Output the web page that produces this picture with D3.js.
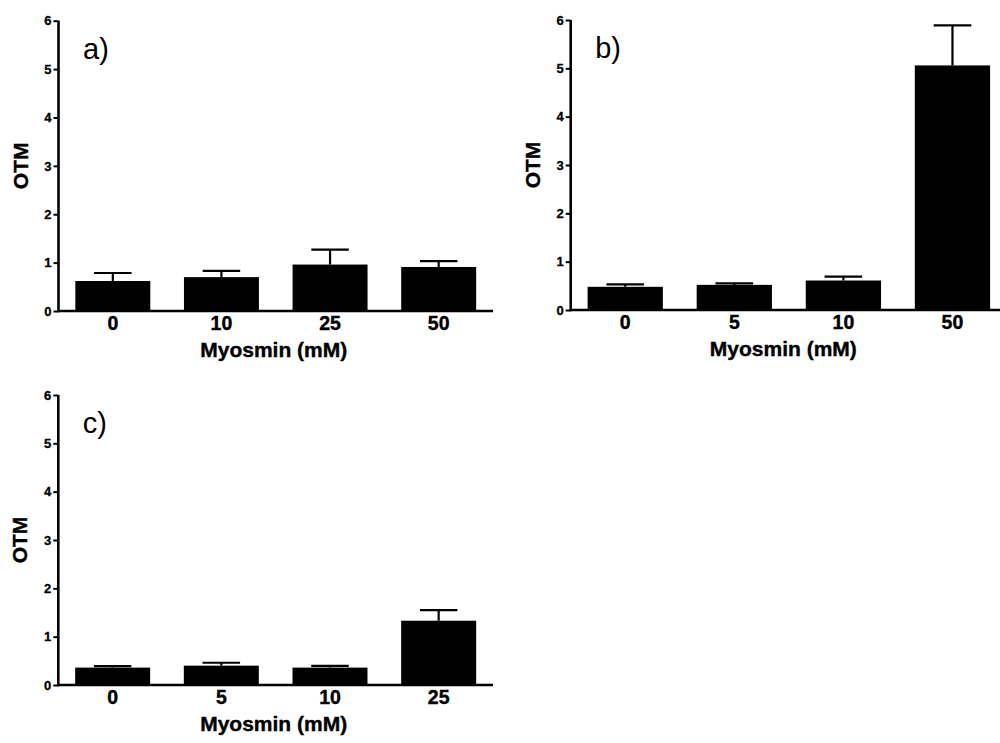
<!DOCTYPE html>
<html>
<head>
<meta charset="utf-8">
<script src="https://cdn.jsdelivr.net/npm/d3@7/dist/d3.min.js"></script>
<style>
  html, body { margin: 0; padding: 0; background: #fff; }
  svg { display: block; }
  .tick text { font-family: "Liberation Sans", Arial, sans-serif; font-weight: bold; }
</style>
</head>
<body>
<svg id="chart" width="1000" height="743"></svg>
<script>
// Myosmin concentrations (mM) per panel
const catsA = ["0", "10", "25", "50"];
const catsB = ["0", "5", "10", "50"];
const catsC = ["0", "5", "10", "25"];

// Mean OTM per concentration
const meanA = [0.62, 0.70, 0.96, 0.91];
const meanB = [0.48, 0.52, 0.61, 5.06];
const meanC = [0.36, 0.40, 0.36, 1.33];

// Upper error (SEM) per concentration
const errA = [0.165, 0.13, 0.31, 0.12];
const errB = [0.05, 0.03, 0.08, 0.83];
const errC = [0.03, 0.06, 0.035, 0.22];

const yTicks = [0, 1, 2, 3, 4, 5, 6];
const panelLabels = ["a)", "b)", "c)"];
const xTitle = "Myosmin (mM)";
const yTitle = "OTM";

const svg = d3.select("#chart");

const panels = [
  { cats: catsA, mean: meanA, err: errA, label: panelLabels[0], x0: 58.5, x1: 493, yTop: 20.7, yBot: 311 },
  { cats: catsB, mean: meanB, err: errB, label: panelLabels[1], x0: 570.7, x1: 1007, yTop: 20, yBot: 310 },
  { cats: catsC, mean: meanC, err: errC, label: panelLabels[2], x0: 58.3, x1: 493, yTop: 395, yBot: 685 }
];

const font = '"Liberation Sans", Arial, sans-serif';

panels.forEach(p => {
  const g = svg.append("g");

  const x = d3.scaleBand()
    .domain(p.cats)
    .range([p.x0, p.x1])
    .paddingInner(0.31)
    .paddingOuter(0.155);

  const y = d3.scaleLinear().domain([0, 6]).range([p.yBot, p.yTop]);

  const rows = p.cats.map((c, i) => ({ c, m: p.mean[i], e: p.err[i] }));

  // error bars (upper only), drawn behind the bars
  const eb = g.append("g").attr("stroke", "#000").attr("stroke-width", 2.2);
  eb.selectAll("line.v").data(rows).join("line")
    .attr("class", "v")
    .attr("x1", d => x(d.c) + x.bandwidth() / 2)
    .attr("x2", d => x(d.c) + x.bandwidth() / 2)
    .attr("y1", d => y(d.m))
    .attr("y2", d => y(d.m + d.e));
  eb.selectAll("line.cap").data(rows).join("line")
    .attr("class", "cap")
    .attr("x1", d => x(d.c) + x.bandwidth() / 4)
    .attr("x2", d => x(d.c) + x.bandwidth() * 3 / 4)
    .attr("y1", d => y(d.m + d.e))
    .attr("y2", d => y(d.m + d.e));

  // bars
  g.append("g").selectAll("rect").data(rows).join("rect")
    .attr("x", d => x(d.c))
    .attr("width", x.bandwidth())
    .attr("y", d => y(d.m))
    .attr("height", d => y(0) - y(d.m))
    .attr("fill", "#000");

  // y axis
  const ya = g.append("g")
    .attr("transform", `translate(${p.x0},0)`)
    .call(d3.axisLeft(y).tickValues(yTicks).tickFormat(d3.format("d")).tickSize(5).tickPadding(2).tickSizeOuter(0));
  ya.select(".domain").attr("stroke-width", 2.6).attr("d", `M0,${p.yBot + 1.3}V${p.yTop}`);
  ya.selectAll(".tick line").attr("stroke-width", 2);
  ya.selectAll(".tick text").attr("font-size", 13).attr("fill", "#000")
    .attr("stroke", "#000").attr("stroke-width", 0.3);

  // x axis (no ticks)
  const xa = g.append("g")
    .attr("transform", `translate(0,${p.yBot})`)
    .call(d3.axisBottom(x).tickSize(0).tickPadding(5).tickSizeOuter(0));
  xa.select(".domain").attr("stroke-width", 2.6).attr("d", `M${p.x0},0H${p.x1}`);
  xa.selectAll(".tick text").attr("font-size", 19.5).attr("fill", "#000")
    .attr("stroke", "#000").attr("stroke-width", 0.4);

  // axis titles
  g.append("text")
    .attr("x", (p.x0 + Math.min(p.x1, 1000)) / 2 - 2)
    .attr("y", p.yBot + 46)
    .attr("text-anchor", "middle")
    .attr("font-family", font)
    .attr("font-weight", "bold")
    .attr("font-size", 21)
    .attr("stroke", "#000").attr("stroke-width", 0.4)
    .text(xTitle);

  g.append("text")
    .attr("transform", `translate(${p.x0 - 31},${(p.yTop + p.yBot) / 2}) rotate(-90)`)
    .attr("text-anchor", "middle")
    .attr("font-family", font)
    .attr("font-weight", "bold")
    .attr("font-size", 21)
    .attr("stroke", "#000").attr("stroke-width", 0.4)
    .text(yTitle);

  // panel letter
  g.append("text")
    .attr("x", p.x0 + 24.5)
    .attr("y", p.yTop + 38)
    .attr("font-family", font)
    .attr("font-size", 29)
    .text(p.label);
});
</script>
</body>
</html>
